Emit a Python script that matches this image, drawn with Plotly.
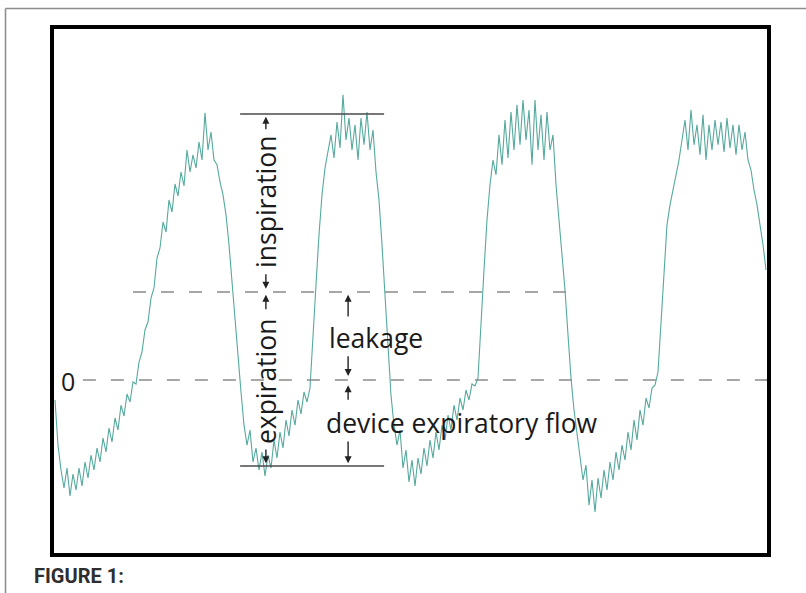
import plotly.graph_objects as go

# ---- data ----
# flow signal (arbitrary units, 0 = zero-flow line), uniformly sampled
flow = [
    -5.0, -16.3, -22.5, -27.0, -22.0, -29.0, -23.5, -27.5, -22.0, -26.5,
    -20.5, -24.5, -18.8, -22.5, -17.0, -20.5, -14.5, -18.0, -12.0, -15.5,
    -9.5, -12.5, -6.3, -9.0, -3.5, -5.5, -0.5, -1.0, 4.5, 7.0,
    12.5, 14.5, 20.5, 23.0, 30.5, 33.0, 39.5, 37.0, 45.0, 42.0,
    49.0, 46.0, 52.0, 48.5, 57.5, 52.0, 56.3, 53.0, 59.5, 55.0,
    66.8, 57.5, 62.0, 55.0, 53.8, 49.5, 46.3, 41.3, 33.8, 24.5,
    15.0, 4.5, -3.0, -11.3, -16.3, -12.5, -20.5, -17.0, -22.5, -18.0,
    -24.0, -18.8, -22.0, -15.0, -19.5, -13.0, -17.0, -10.0, -14.0, -7.5,
    -11.3, -5.0, -8.5, -3.0, -5.5, -2.0, 12.5, 23.8, 36.3, 46.3,
    53.0, 57.5, 61.3, 55.5, 64.5, 58.0, 71.3, 60.0, 65.5, 57.5,
    63.8, 55.0, 65.5, 58.8, 67.0, 57.5, 62.5, 52.0, 45.0, 33.8,
    22.0, 7.5, -3.8, -11.3, -16.3, -12.5, -22.0, -17.5, -25.5, -20.0,
    -26.5, -19.5, -23.5, -17.0, -21.5, -15.0, -19.5, -13.0, -17.5, -11.3,
    -15.0, -8.8, -12.5, -6.3, -10.0, -4.5, -7.5, -2.5, -5.0, -1.0,
    -1.5, 0.5, 12.5, 27.5, 40.0, 48.8, 55.0, 51.3, 61.3, 53.8,
    65.0, 55.5, 67.0, 57.5, 68.8, 58.8, 70.0, 60.0, 67.5, 53.8,
    70.0, 57.5, 66.3, 55.0, 67.0, 57.5, 61.3, 48.8, 40.0, 31.3,
    22.5, 11.3, 0.5, -7.5, -13.8, -18.8, -25.0, -21.3, -31.3, -25.0,
    -33.0, -24.5, -29.5, -22.5, -27.5, -20.5, -25.0, -18.0, -22.5, -16.3,
    -20.0, -13.0, -17.5, -10.0, -15.0, -7.5, -11.3, -4.5, -7.0, -2.0,
    -1.3, 2.0, 15.0, 28.8, 38.8, 43.8, 47.5, 50.5, 55.0, 60.0,
    65.0, 57.5, 67.5, 58.8, 63.8, 56.3, 66.3, 55.0, 63.8, 57.5,
    65.0, 58.8, 64.5, 57.0, 65.5, 58.0, 63.8, 56.3, 63.8, 57.5,
    62.0, 55.0, 52.5, 47.5, 43.8, 38.8, 33.8, 27.5,
]
sample = list(range(len(flow)))

zero_level = 0.0
leak_level = 22.0
insp_peak = 66.5
exp_trough = -21.5

labels = ["inspiration", "expiration", "leakage", "device expiratory flow", "0"]
figure_label = "FIGURE 1:"

# ---- layout geometry ----
W_PX, H_PX = 806, 593
L, R, T, B = 52, 37, 27, 38
PW, PH = W_PX - L - R, H_PX - T - B


def px2paper_x(px):
    return (px - L) / PW


def px2paper_y(py):
    return (H_PX - B - py) / PH


fig = go.Figure()
fig.add_trace(go.Scatter(
    x=sample, y=flow, mode="lines",
    line=dict(color="#55a99d", width=1.1),
    hoverinfo="skip", showlegend=False,
))

DASH = "13px,15px"
shapes = [
    # zero line
    dict(type="line", xref="x", yref="y", x0=9.3, x1=238, y0=zero_level, y1=zero_level,
         line=dict(color="#8a8a8a", width=1.6, dash=DASH)),
    # leakage line
    dict(type="line", xref="x", yref="y", x0=26, x1=170.5, y0=leak_level, y1=leak_level,
         line=dict(color="#8a8a8a", width=1.6, dash=DASH)),
    # peak / trough solid lines
    dict(type="line", xref="x", yref="y", x0=61.7, x1=109.7, y0=insp_peak, y1=insp_peak,
         line=dict(color="#4a4a4a", width=1.5)),
    dict(type="line", xref="x", yref="y", x0=61.7, x1=109.7, y0=exp_trough, y1=exp_trough,
         line=dict(color="#4a4a4a", width=1.5)),
    # thick frame
    dict(type="rect", xref="paper", yref="paper", x0=0, x1=1, y0=0, y1=1,
         line=dict(color="#000000", width=4), layer="above"),
    # outer thin page border
    dict(type="line", xref="paper", yref="paper",
         x0=px2paper_x(5.5), x1=px2paper_x(5.5), y0=px2paper_y(8.5), y1=px2paper_y(600),
         line=dict(color="#8c8c8c", width=1.5)),
    dict(type="line", xref="paper", yref="paper",
         x0=px2paper_x(5.5), x1=px2paper_x(810), y0=px2paper_y(8.5), y1=px2paper_y(8.5),
         line=dict(color="#8c8c8c", width=1.5)),
]

FONT = "Open Sans, Noto Sans, sans-serif"
TXT = "#1a1a1a"
FS = 26.5
annotations = []


def arrow(x, y_tail, y_head):
    annotations.append(dict(
        x=x, y=y_head, ax=x, ay=y_tail, xref="x", yref="y", axref="x", ayref="y",
        text="", showarrow=True, arrowhead=2, arrowsize=1, arrowwidth=1.4,
        arrowcolor="#222222", standoff=0, startstandoff=0,
    ))


col_a = 70.3   # inspiration / expiration column
col_b = 97.7   # leakage / device flow column

arrow(col_a, 62.3, 65.8)
arrow(col_a, 26.8, 22.8)
arrow(col_a, 17.3, 21.3)
arrow(col_a, -17.0, -20.8)
arrow(col_b, 15.5, 21.3)
arrow(col_b, 6.3, 1.0)
arrow(col_b, -5.3, -1.3)
arrow(col_b, -15.0, -20.8)

annotations += [
    dict(x=col_a, y=44.5, xref="x", yref="y", text=labels[0], textangle=-90,
         showarrow=False, font=dict(family=FONT, size=FS, color=TXT)),
    dict(x=col_a, y=-0.3, xref="x", yref="y", text=labels[1], textangle=-90,
         showarrow=False, font=dict(family=FONT, size=FS, color=TXT)),
    dict(x=107, y=10.5, xref="x", yref="y", text=labels[2],
         showarrow=False, font=dict(family=FONT, size=FS, color=TXT)),
    dict(x=135.7, y=-10.8, xref="x", yref="y", text=labels[3],
         showarrow=False, font=dict(family=FONT, size=FS, color=TXT)),
    dict(x=4.3, y=-0.3, xref="x", yref="y", text=labels[4],
         showarrow=False, font=dict(family=FONT, size=25, color=TXT)),
    dict(x=px2paper_x(32), y=px2paper_y(576), xref="paper", yref="paper",
         xanchor="left", yanchor="middle", text="<b>" + figure_label + "</b>",
         showarrow=False, font=dict(family="Roboto, sans-serif", size=20, color="#2e2e2e")),
]

fig.update_layout(
    width=W_PX, height=H_PX,
    margin=dict(l=L, r=R, t=T, b=B),
    paper_bgcolor="white", plot_bgcolor="white",
    xaxis=dict(range=[-1, 238], visible=False, fixedrange=True),
    yaxis=dict(range=[-43.75, 88.25], visible=False, fixedrange=True),
    shapes=shapes, annotations=annotations, showlegend=False,
)

fig.write_html(
    "out.html",
    config={"displayModeBar": False, "staticPlot": True},
    post_script="document.body.style.margin='0px';document.body.style.overflow='hidden';",
)
